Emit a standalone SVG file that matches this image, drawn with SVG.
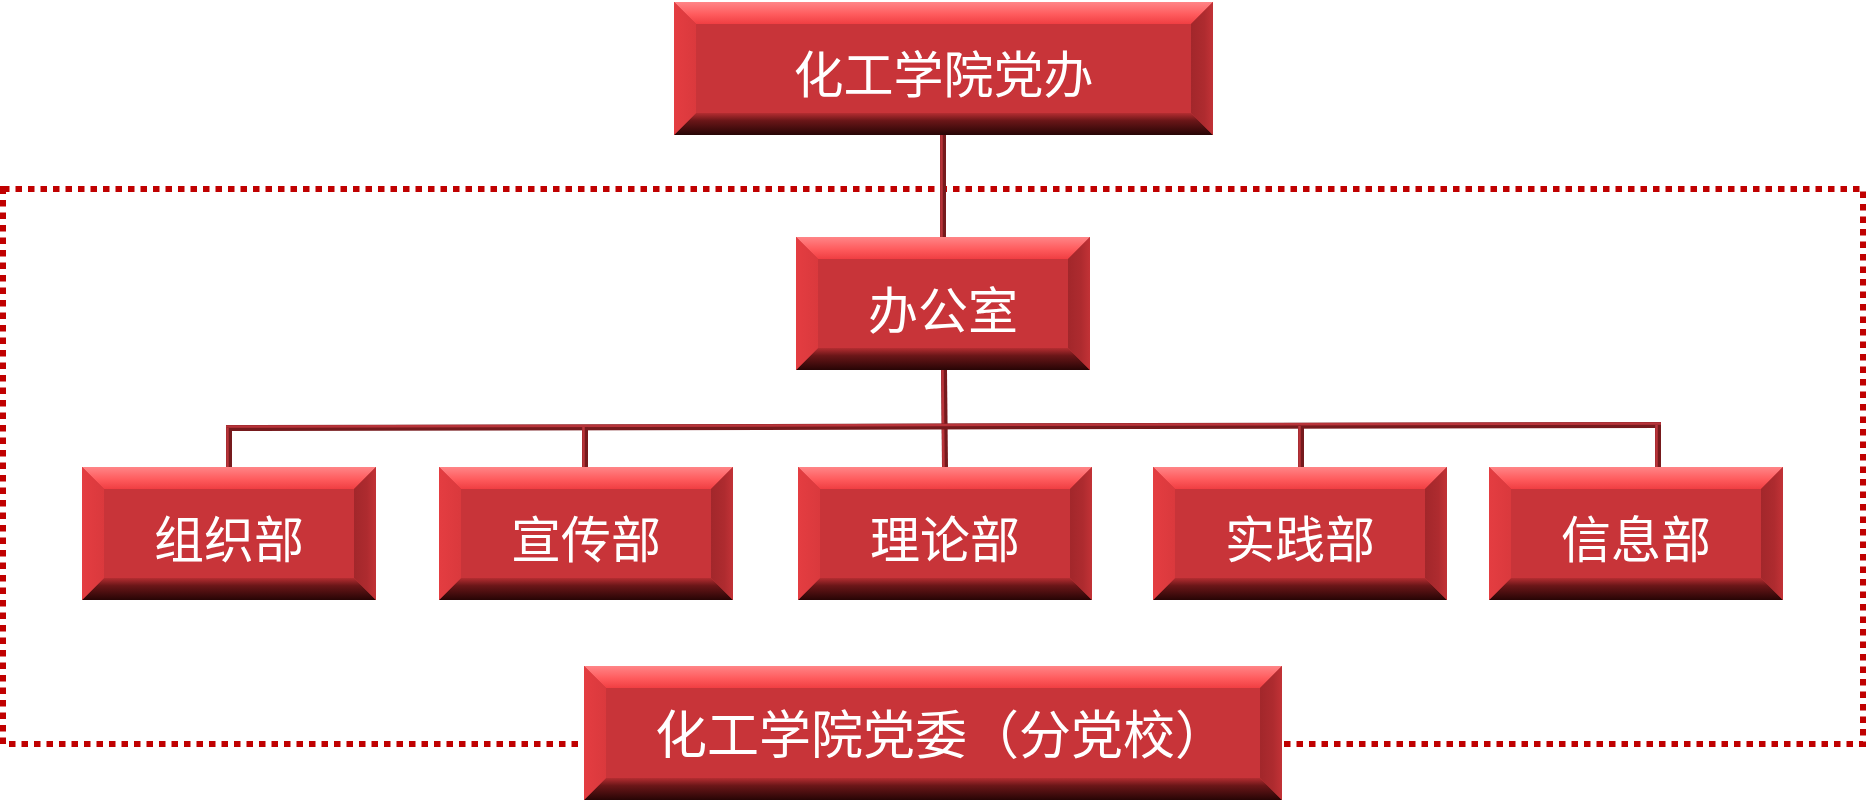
<svg xmlns="http://www.w3.org/2000/svg" width="1866" height="802" viewBox="0 0 1866 802">
<defs>
<linearGradient id="gTop" x1="0" y1="0" x2="0" y2="1"><stop offset="0" stop-color="#FF8587"/><stop offset="0.55" stop-color="#FF5C5E"/><stop offset="1" stop-color="#F03E42"/></linearGradient>
<linearGradient id="gBot" x1="0" y1="0" x2="0" y2="1"><stop offset="0" stop-color="#B42D31"/><stop offset="0.35" stop-color="#6A1618"/><stop offset="1" stop-color="#270505"/></linearGradient>
<linearGradient id="gLeft" x1="0" y1="0" x2="1" y2="0"><stop offset="0" stop-color="#E43D41"/><stop offset="1" stop-color="#DA393D"/></linearGradient>
<linearGradient id="gRight" x1="0" y1="0" x2="1" y2="0"><stop offset="0" stop-color="#A2272B"/><stop offset="0.6" stop-color="#AE2B2F"/><stop offset="1" stop-color="#C23236"/></linearGradient>
</defs>
<style>
.face{fill:#C83439}
.bt{fill:url(#gTop)}
.bb{fill:url(#gBot)}
.bl{fill:url(#gLeft)}
.br{fill:url(#gRight)}
.lbl{font-family:"Noto Sans CJK SC","Noto Sans CJK TC",sans-serif;fill:#FFFFFF;text-anchor:middle;font-size:50px}
.dot{fill:none;stroke:#C00000;stroke-width:6;stroke-dasharray:6.5 6}
.cd{stroke:#761A1D;stroke-width:6;fill:none}
.ch{stroke:#B8343A;stroke-width:2.5;fill:none}
</style>
<rect class="dot" x="3" y="189" width="1860" height="555"/>
<g id="connectors">
<line class="cd" x1="943" y1="135" x2="943" y2="237"/>
<line class="ch" x1="941.5" y1="135" x2="941.5" y2="237"/>
<line class="cd" x1="944" y1="370" x2="945" y2="467"/>
<line class="ch" x1="942.5" y1="370" x2="943.5" y2="467"/>
<line class="cd" x1="226" y1="428" x2="1661" y2="425"/>
<line class="ch" x1="226" y1="426.5" x2="1661" y2="423.5"/>
<line class="cd" x1="229" y1="428" x2="229" y2="467"/>
<line class="ch" x1="227.5" y1="428" x2="227.5" y2="467"/>
<line class="cd" x1="585" y1="427" x2="585" y2="467"/>
<line class="ch" x1="583.5" y1="427" x2="583.5" y2="467"/>
<line class="cd" x1="1301" y1="426" x2="1301" y2="467"/>
<line class="ch" x1="1299.5" y1="426" x2="1299.5" y2="467"/>
<line class="cd" x1="1658" y1="425" x2="1658" y2="467"/>
<line class="ch" x1="1656.5" y1="425" x2="1656.5" y2="467"/>
</g>
<g id="n-top">
<rect class="face" x="674" y="2" width="539" height="133"/>
<polygon class="bt" points="674,2 1213,2 1191,24 696,24"/>
<polygon class="bb" points="674,135 1213,135 1191,113 696,113"/>
<polygon class="bl" points="674,2 696,24 696,113 674,135"/>
<polygon class="br" points="1213,2 1191,24 1191,113 1213,135"/>
<text class="lbl" x="943.5" y="92.5">化工学院党办</text>
</g>
<g id="n-office">
<rect class="face" x="796" y="237" width="294" height="133"/>
<polygon class="bt" points="796,237 1090,237 1068,259 818,259"/>
<polygon class="bb" points="796,370 1090,370 1068,348 818,348"/>
<polygon class="bl" points="796,237 818,259 818,348 796,370"/>
<polygon class="br" points="1090,237 1068,259 1068,348 1090,370"/>
<text class="lbl" x="943" y="329">办公室</text>
</g>
<g id="n-zuzhi">
<rect class="face" x="82" y="467" width="294" height="133"/>
<polygon class="bt" points="82,467 376,467 354,489 104,489"/>
<polygon class="bb" points="82,600 376,600 354,578 104,578"/>
<polygon class="bl" points="82,467 104,489 104,578 82,600"/>
<polygon class="br" points="376,467 354,489 354,578 376,600"/>
<text class="lbl" x="229" y="557.5">组织部</text>
</g>
<g id="n-xuanchuan">
<rect class="face" x="439" y="467" width="294" height="133"/>
<polygon class="bt" points="439,467 733,467 711,489 461,489"/>
<polygon class="bb" points="439,600 733,600 711,578 461,578"/>
<polygon class="bl" points="439,467 461,489 461,578 439,600"/>
<polygon class="br" points="733,467 711,489 711,578 733,600"/>
<text class="lbl" x="586" y="557.5">宣传部</text>
</g>
<g id="n-lilun">
<rect class="face" x="798" y="467" width="294" height="133"/>
<polygon class="bt" points="798,467 1092,467 1070,489 820,489"/>
<polygon class="bb" points="798,600 1092,600 1070,578 820,578"/>
<polygon class="bl" points="798,467 820,489 820,578 798,600"/>
<polygon class="br" points="1092,467 1070,489 1070,578 1092,600"/>
<text class="lbl" x="945" y="557.5">理论部</text>
</g>
<g id="n-shijian">
<rect class="face" x="1153" y="467" width="294" height="133"/>
<polygon class="bt" points="1153,467 1447,467 1425,489 1175,489"/>
<polygon class="bb" points="1153,600 1447,600 1425,578 1175,578"/>
<polygon class="bl" points="1153,467 1175,489 1175,578 1153,600"/>
<polygon class="br" points="1447,467 1425,489 1425,578 1447,600"/>
<text class="lbl" x="1300" y="557.5">实践部</text>
</g>
<g id="n-xinxi">
<rect class="face" x="1489" y="467" width="294" height="133"/>
<polygon class="bt" points="1489,467 1783,467 1761,489 1511,489"/>
<polygon class="bb" points="1489,600 1783,600 1761,578 1511,578"/>
<polygon class="bl" points="1489,467 1511,489 1511,578 1489,600"/>
<polygon class="br" points="1783,467 1761,489 1761,578 1783,600"/>
<text class="lbl" x="1636" y="557.5">信息部</text>
</g>
<g id="n-bottom">
<rect class="face" x="584" y="666" width="698" height="134"/>
<polygon class="bt" points="584,666 1282,666 1260,688 606,688"/>
<polygon class="bb" points="584,800 1282,800 1260,778 606,778"/>
<polygon class="bl" points="584,666 606,688 606,778 584,800"/>
<polygon class="br" points="1282,666 1260,688 1260,778 1282,800"/>
<text class="lbl" x="941" y="754" style="font-size:52px">化工学院党委（分党校）</text>
</g>
</svg>
